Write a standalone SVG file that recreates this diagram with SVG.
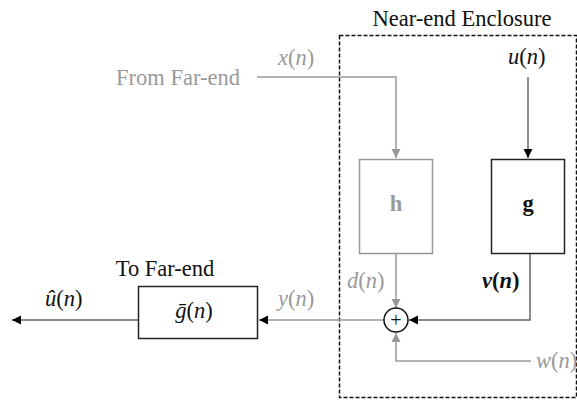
<svg xmlns="http://www.w3.org/2000/svg" width="577" height="401" viewBox="0 0 577 401">
<style>
text{font-family:'Liberation Serif','Times New Roman',serif;font-size:22.5px}
.g{fill:#999}
.k{fill:#111}
.i{font-style:italic}
.b{font-weight:bold}
.ln{fill:none;stroke:#9a9a9a;stroke-width:1.5}
.dk{fill:none;stroke:#666;stroke-width:1.5}
</style>
<defs>
<marker id="ag" markerUnits="userSpaceOnUse" markerWidth="10" markerHeight="10" refX="9" refY="5" orient="auto"><path d="M0,0.5 L9,5 L0,9.5 Z" fill="#999"/></marker>
<marker id="ak" markerUnits="userSpaceOnUse" markerWidth="10" markerHeight="10" refX="9" refY="5" orient="auto"><path d="M0,0.5 L9,5 L0,9.5 Z" fill="#000"/></marker>
</defs>
<g id="enclosure">
<rect x="339.5" y="35.5" width="237" height="362" fill="none" stroke="#111" stroke-width="1.5" stroke-dasharray="4,2"/>
<text x="462" y="26" text-anchor="middle" class="k">Near-end Enclosure</text>
</g>
<g id="connectors">
<polyline class="ln" points="257,77 396,77 396,158" marker-end="url(#ag)"/>
<line class="dk" x1="528" y1="77" x2="528" y2="158" marker-end="url(#ak)"/>
<line class="ln" x1="396" y1="254" x2="396" y2="308" marker-end="url(#ag)"/>
<polyline class="dk" points="530,254 530,320 409,320" marker-end="url(#ak)"/>
<polyline class="ln" points="531,361 396,361 396,333" marker-end="url(#ag)"/>
<line class="ln" x1="384" y1="320" x2="259" y2="320" marker-end="url(#ak)"/>
<line class="dk" x1="138" y1="320" x2="12" y2="320" marker-end="url(#ak)"/>
</g>
<g id="from-far-end">
<text x="178" y="85" text-anchor="middle" class="g">From Far-end</text>
<text x="278" y="65" class="g"><tspan class="i">x</tspan>(<tspan class="i">n</tspan>)</text>
</g>
<g id="u-input">
<text x="508" y="64" class="k"><tspan class="i">u</tspan>(<tspan class="i">n</tspan>)</text>
</g>
<g id="h">
<rect x="359.5" y="159.5" width="73" height="94" fill="#fff" stroke="#999" stroke-width="1.5"/>
<text x="396" y="211" text-anchor="middle" class="g b">h</text>
</g>
<g id="g">
<rect x="491.5" y="159.5" width="73" height="94" fill="#fff" stroke="#222" stroke-width="1.5"/>
<text x="528" y="211" text-anchor="middle" class="k b">g</text>
</g>
<g id="sum">
<circle cx="396" cy="320" r="12" fill="#fff" stroke="#111" stroke-width="1.5"/>
<text x="396" y="326.5" text-anchor="middle" class="k" style="font-size:20px">+</text>
</g>
<g id="labels">
<text x="347" y="288" class="g"><tspan class="i">d</tspan>(<tspan class="i">n</tspan>)</text>
<text x="482" y="288" class="k b"><tspan class="i">v</tspan>(<tspan class="i">n</tspan>)</text>
<text x="278" y="306" class="g"><tspan class="i">y</tspan>(<tspan class="i">n</tspan>)</text>
<text x="536" y="368" class="g"><tspan class="i">w</tspan>(<tspan class="i">n</tspan>)</text>
<text x="45" y="306" class="k"><tspan class="i">û</tspan>(<tspan class="i">n</tspan>)</text>
</g>
<g id="gbar">
<rect x="138.5" y="286.5" width="119" height="52" fill="#fff" stroke="#222" stroke-width="1.5"/>
<text x="194" y="318" text-anchor="middle" class="k"><tspan class="i">ḡ</tspan>(<tspan class="i">n</tspan>)</text>
<text x="165" y="276" text-anchor="middle" class="k">To Far-end</text>
</g>
</svg>
